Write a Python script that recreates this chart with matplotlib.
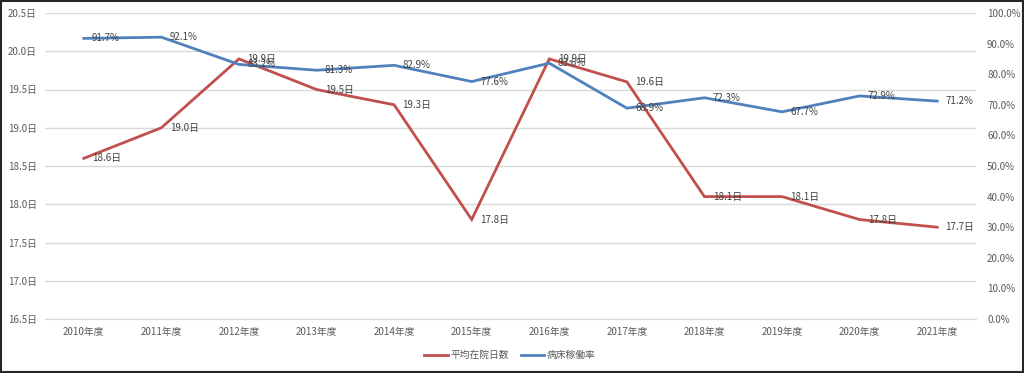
import matplotlib
matplotlib.use("Agg")
import matplotlib.pyplot as plt
from matplotlib.lines import Line2D
from matplotlib.ticker import FuncFormatter, MultipleLocator

plt.rcParams['font.family'] = ['Noto Sans CJK JP', 'DejaVu Sans']

years = ["2010年度", "2011年度", "2012年度", "2013年度", "2014年度", "2015年度",
         "2016年度", "2017年度", "2018年度", "2019年度", "2020年度", "2021年度"]
avg_stay = [18.6, 19.0, 19.9, 19.5, 19.3, 17.8, 19.9, 19.6, 18.1, 18.1, 17.8, 17.7]
occupancy = [91.7, 92.1, 83.2, 81.3, 82.9, 77.6, 83.6, 68.9, 72.3, 67.7, 72.9, 71.2]

RED = "#C0504D"
BLUE = "#4F81BD"
TXT = "#595959"
GRID = "#D9D9D9"

fig = plt.figure(figsize=(10.24, 3.73), dpi=100)
ax = fig.add_axes([45/1024, 1 - 319/373, (976-45)/1024, (319-13)/373])
ax2 = ax.twinx()

x = list(range(len(years)))
ax.plot(x, avg_stay, color=RED, lw=2.0, solid_joinstyle='miter', zorder=3)
ax2.plot(x, occupancy, color=BLUE, lw=2.0, solid_joinstyle='miter', zorder=3)

ax.set_xlim(-0.5, len(years) - 0.5)
ax.set_ylim(16.5, 20.5)
ax.yaxis.set_major_locator(MultipleLocator(0.5))
ax.yaxis.set_major_formatter(FuncFormatter(lambda v, p: f"{v:.1f}日"))
ax2.set_ylim(0, 100)
ax2.yaxis.set_major_locator(MultipleLocator(10))
ax2.yaxis.set_major_formatter(FuncFormatter(lambda v, p: f"{v:.1f}%"))

ax.grid(axis='y', color=GRID, lw=1.0)
ax.set_axisbelow(True)
for a in (ax, ax2):
    for s in a.spines.values():
        s.set_visible(False)
ax.spines['bottom'].set_visible(True)
ax.spines['bottom'].set_color(GRID)

ax.set_xticks(x)
ax.set_xticklabels(years)
ax.tick_params(axis='x', length=0, pad=6, labelsize=7, colors=TXT)
ax.tick_params(axis='y', length=0, pad=6, labelsize=7, colors=TXT)
ax2.tick_params(axis='y', length=0, pad=8, labelsize=7, colors=TXT)

for xi, v in zip(x, avg_stay):
    ax.annotate(f"{v:.1f}日", (xi, v), xytext=(6, 0), textcoords='offset points',
                ha='left', va='center', fontsize=7, color="#404040", zorder=5)
for xi, v in zip(x, occupancy):
    ax2.annotate(f"{v:.1f}%", (xi, v), xytext=(6, 0), textcoords='offset points',
                 ha='left', va='center', fontsize=7, color="#404040", zorder=5)

handles = [Line2D([], [], color=RED, lw=2.0), Line2D([], [], color=BLUE, lw=2.0)]
fig.legend(handles, ["平均在院日数", "病床稼働率"], loc='center',
           bbox_to_anchor=(510/1024, 1 - 355/373), ncol=2, frameon=False,
           fontsize=7, labelcolor=TXT, handlelength=2.4, handletextpad=0.3,
           columnspacing=1.2)

fig.patches.append(plt.Rectangle((0.001, 0.002), 0.998, 0.995, transform=fig.transFigure,
                                 fill=False, edgecolor="#262626", lw=1.5))

fig.savefig("out.png", dpi=100)
